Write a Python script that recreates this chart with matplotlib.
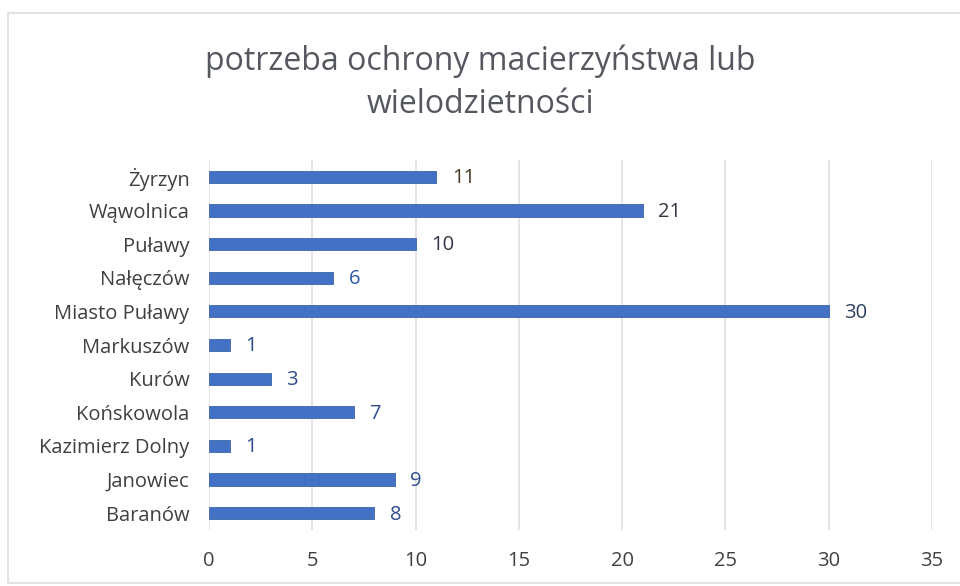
import matplotlib.pyplot as plt
from matplotlib.patches import Rectangle

categories = ['Baranów', 'Janowiec', 'Kazimierz Dolny', 'Końskowola', 'Kurów',
              'Markuszów', 'Miasto Puławy', 'Nałęczów', 'Puławy', 'Wąwolnica', 'Żyrzyn']
values = [8, 9, 1, 7, 3, 1, 30, 6, 10, 21, 11]
label_colors = ['#2F4B8C', '#2F4B8C', '#2F4B8C', '#2F4B8C', '#2F4B8C',
                '#2F4B8C', '#2E3F5E', '#2F5AA8', '#333845', '#333845', '#4A3B22']
xticks = [0, 5, 10, 15, 20, 25, 30, 35]

plt.rcParams['font.family'] = ['Open Sans', 'DejaVu Sans']

fig = plt.figure(figsize=(9.6, 5.86), dpi=100)
border = Rectangle((8 / 960, 3 / 586), 1.0, 1 - 16 / 586, transform=fig.transFigure,
                   facecolor='white', edgecolor='#E3E3E3', linewidth=1.5, zorder=-5)
fig.patches.append(border)

ax = fig.add_axes([209 / 960, 1 - 530 / 586, 723 / 960, 370 / 586])
ax.set_facecolor('none')

ypos = range(len(categories))
ax.barh(ypos, values, height=0.36, color='#4371C3', edgecolor='#3C63AC', linewidth=0.6, zorder=3)
for y, v, c in zip(ypos, values, label_colors):
    ax.text(v + 0.75, y - 0.04, str(v), va='center', ha='left', fontsize=14.5, color=c)

ax.set_xlim(0, 35)
ax.set_ylim(-0.5, len(categories) - 0.5)
ax.set_xticks(xticks)
ax.set_xticklabels([str(t) for t in xticks], fontsize=14.5, color='#404040')
ax.set_yticks(list(ypos))
ax.set_yticklabels(categories, fontsize=14.5, color='#404040')
ax.tick_params(axis='both', length=0)
ax.tick_params(axis='x', pad=15)
ax.tick_params(axis='y', pad=14)
ax.grid(axis='x', color='#E0E0E0', linewidth=1.2, zorder=0)
for s in ax.spines.values():
    s.set_visible(False)

fig.text(0.5, 1 - 83 / 586, 'potrzeba ochrony macierzyństwa lub\nwielodzietności',
         ha='center', va='center', fontsize=23, color='#55585F', linespacing=1.4)

fig.savefig('out.png', dpi=100)
